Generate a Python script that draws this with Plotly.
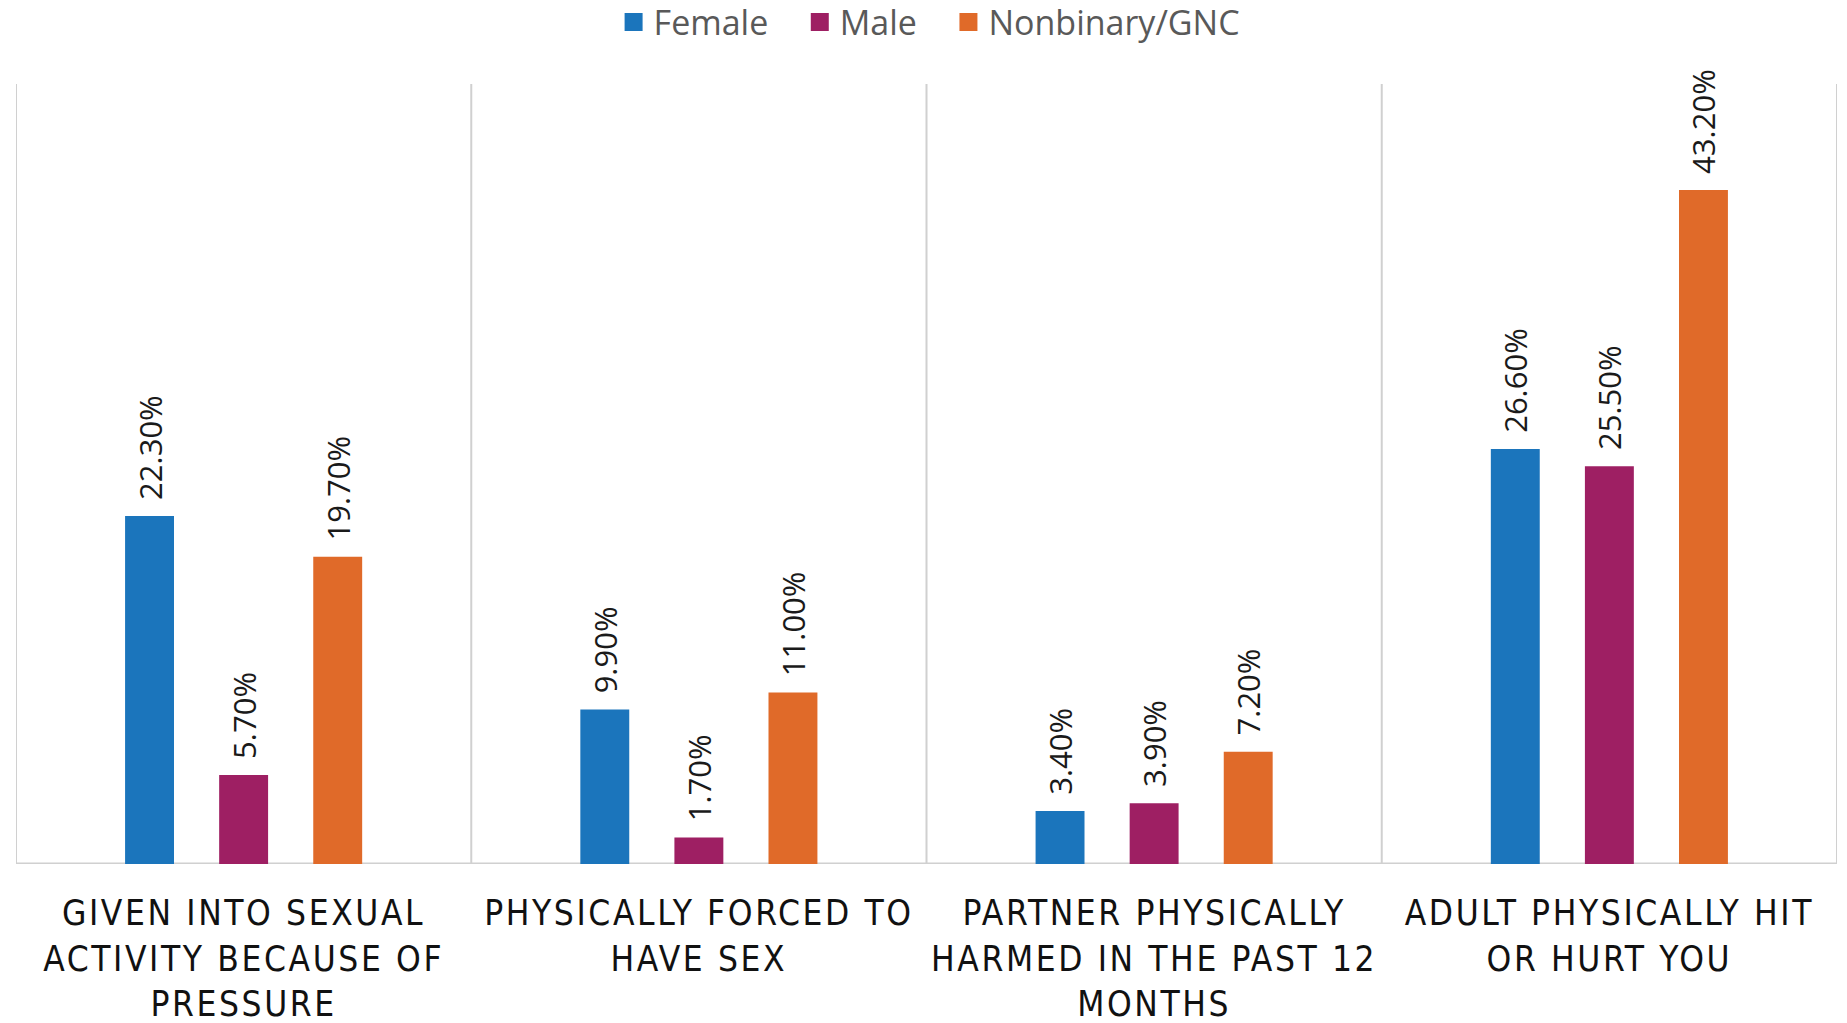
import plotly.graph_objects as go

categories = [
    "GIVEN INTO SEXUAL<br>ACTIVITY BECAUSE OF<br>PRESSURE",
    "PHYSICALLY FORCED TO<br>HAVE SEX",
    "PARTNER PHYSICALLY<br>HARMED IN THE PAST 12<br>MONTHS",
    "ADULT PHYSICALLY HIT<br>OR HURT YOU",
]
female = [22.3, 9.9, 3.4, 26.6]
male = [5.7, 1.7, 3.9, 25.5]
nonbinary = [19.7, 11.0, 7.2, 43.2]

series_names = ["Female", "Male", "Nonbinary/GNC"]
series_values = [female, male, nonbinary]
series_colors = ["#1B75BC", "#9E1F63", "#E06A29"]

fig = go.Figure()
for name, vals, color in zip(series_names, series_values, series_colors):
    fig.add_trace(go.Bar(
        name=name, x=categories, y=vals,
        marker=dict(color=color, line=dict(width=0)),
        text=[f"\u00a0\u2009{v:.2f}%" for v in vals],
        textposition="outside", textangle=-90, constraintext="none",
        textfont=dict(family="Open Sans", size=31, color="#1a1a1a"),
        cliponaxis=False, showlegend=False,
    ))
# legend entries (larger square swatches)
for k, (name, color) in enumerate(zip(series_names, series_colors)):
    pad = "\u00a0\u00a0\u00a0" if k < len(series_names) - 1 else ""
    fig.add_trace(go.Scatter(
        name=name + pad, x=[None], y=[None], mode="markers",
        marker=dict(symbol="square", size=16, color=color,
                    line=dict(color=color, width=2)),
        showlegend=True,
    ))

line_color = "#d0d0d0"
shapes = []
for i in range(len(categories) + 1):
    shapes.append(dict(type="line", xref="x", yref="paper",
                       x0=i - 0.5, x1=i - 0.5, y0=0, y1=1,
                       line=dict(color=line_color, width=2), layer="below"))
shapes.append(dict(type="line", xref="paper", yref="y", x0=0, x1=1, y0=0, y1=0,
                   line=dict(color=line_color, width=3), layer="below"))

fig.update_layout(
    width=1847, height=1023,
    margin=dict(l=16, r=10, t=84, b=159, autoexpand=False),
    paper_bgcolor="white", plot_bgcolor="white",
    barmode="group", bargap=0.38, bargroupgap=0.48,
    shapes=shapes,
    showlegend=True,
    legend=dict(orientation="h", x=0.5017, xanchor="center", y=0.978, yanchor="middle",
                yref="container", font=dict(family="Open Sans", size=34, color="#595959"),
                itemsizing="trace", tracegroupgap=0, itemwidth=30),
    xaxis=dict(range=[-0.5, 3.5], showgrid=False, showline=False, zeroline=False,
               ticks="", ticklabelstandoff=25, automargin=False,
               tickfont=dict(family="Liberation Sans Narrow, DejaVu Sans Condensed, Open Sans",
                             size=35, color="#111111")),
    yaxis=dict(range=[0, 50], showgrid=False, showline=False, zeroline=False,
               showticklabels=False, ticks="", automargin=False),
)

post = """
document.body.style.margin='0';
document.body.style.overflow='hidden';
var gd = document.querySelector('.plotly-graph-div');
function spaceTicks(){
  document.querySelectorAll('.xtick text').forEach(function(t){ t.style.letterSpacing='2.6px'; });
}
spaceTicks();
if (gd && gd.on) { gd.on('plotly_afterplot', spaceTicks); }
"""
fig.write_html("out.html", post_script=post, config={"displayModeBar": False})
